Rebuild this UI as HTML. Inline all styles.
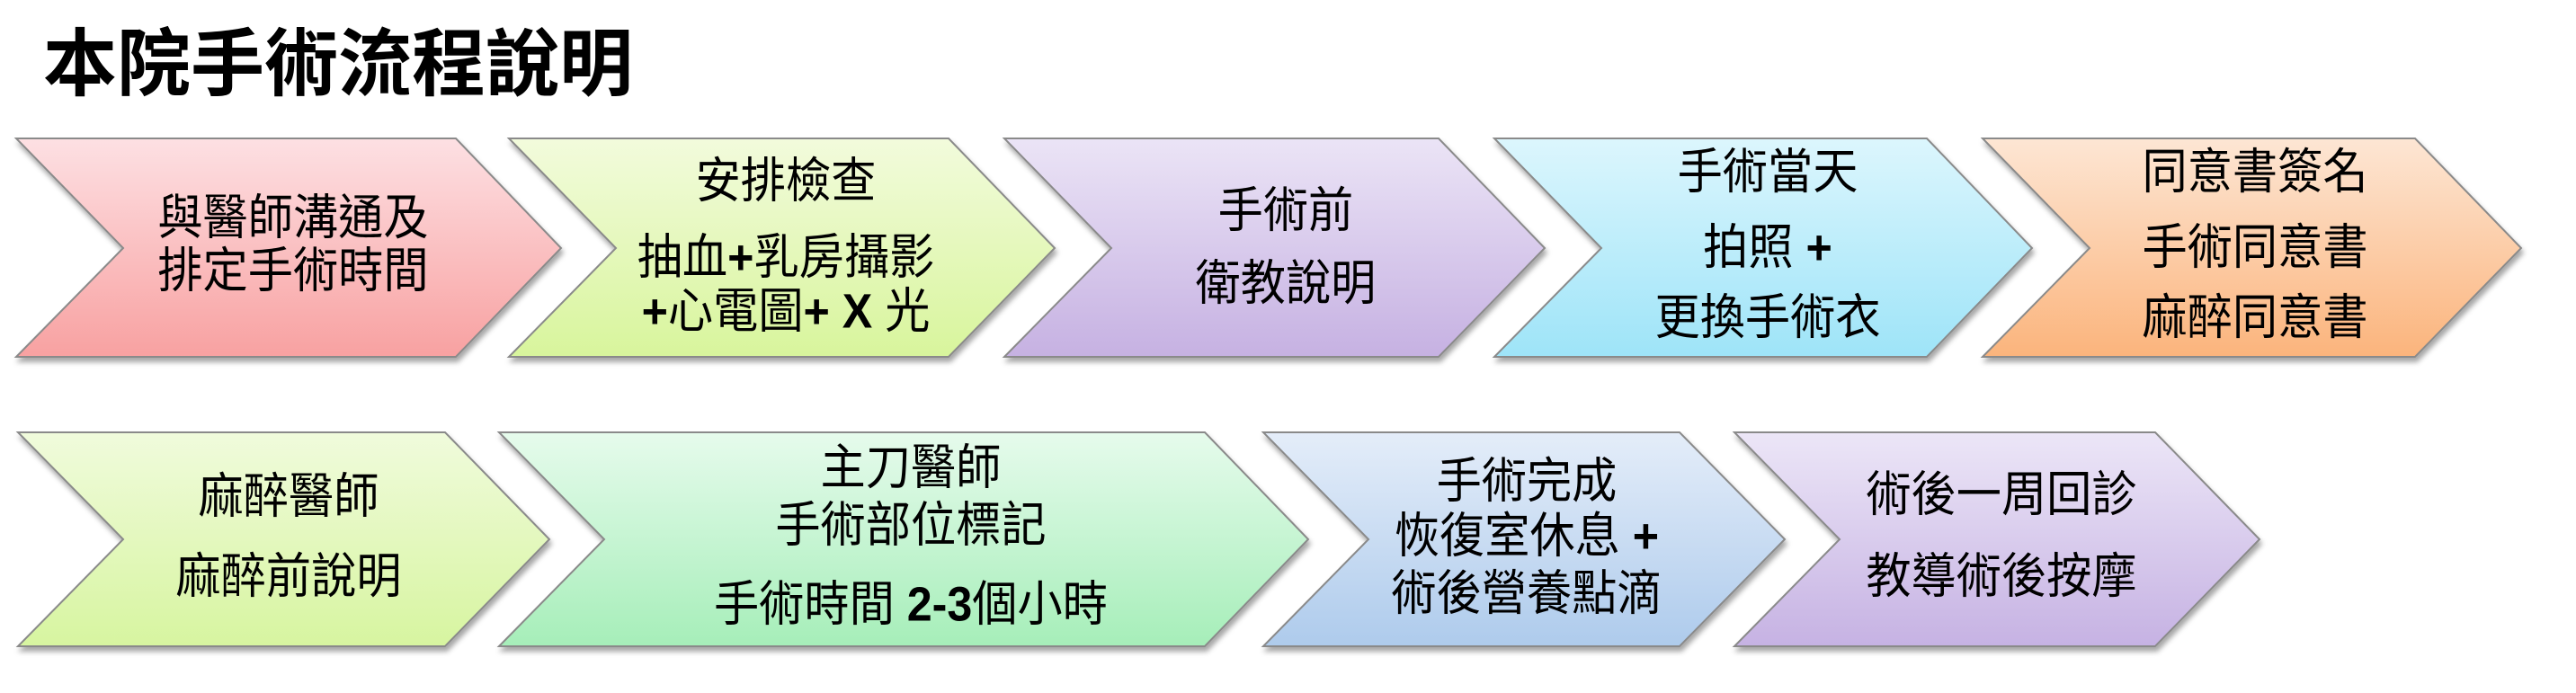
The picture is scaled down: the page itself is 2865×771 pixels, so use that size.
<!DOCTYPE html>
<html><head><meta charset="utf-8"><style>
html,body{margin:0;padding:0;background:#fff;}
svg{display:block;}
text{font-family:"Liberation Sans","Noto Sans CJK TC",sans-serif;fill:#000;}
</style></head><body>
<svg width="2865" height="771" viewBox="0 0 2865 771" xmlns="http://www.w3.org/2000/svg">
<defs>
<linearGradient id="g1" x1="0" y1="0" x2="0" y2="1"><stop offset="0" stop-color="#fde0e3"/><stop offset="1" stop-color="#f8a1a1"/></linearGradient>
<linearGradient id="g2" x1="0" y1="0" x2="0" y2="1"><stop offset="0" stop-color="#f2fbdc"/><stop offset="1" stop-color="#d8f59c"/></linearGradient>
<linearGradient id="g3" x1="0" y1="0" x2="0" y2="1"><stop offset="0" stop-color="#ebe4f6"/><stop offset="1" stop-color="#c6b1e2"/></linearGradient>
<linearGradient id="g4" x1="0" y1="0" x2="0" y2="1"><stop offset="0" stop-color="#dcf6fd"/><stop offset="1" stop-color="#9ee4f8"/></linearGradient>
<linearGradient id="g5" x1="0" y1="0" x2="0" y2="1"><stop offset="0" stop-color="#fde6d4"/><stop offset="1" stop-color="#fbb47c"/></linearGradient>
<linearGradient id="g6" x1="0" y1="0" x2="0" y2="1"><stop offset="0" stop-color="#f0fbdc"/><stop offset="1" stop-color="#d7f5a0"/></linearGradient>
<linearGradient id="g7" x1="0" y1="0" x2="0" y2="1"><stop offset="0" stop-color="#e6fbec"/><stop offset="1" stop-color="#a6eeb9"/></linearGradient>
<linearGradient id="g8" x1="0" y1="0" x2="0" y2="1"><stop offset="0" stop-color="#e4edf9"/><stop offset="1" stop-color="#aecbec"/></linearGradient>
<linearGradient id="g9" x1="0" y1="0" x2="0" y2="1"><stop offset="0" stop-color="#ece6f7"/><stop offset="1" stop-color="#c6b2e3"/></linearGradient>
<filter id="sh" x="-5%" y="-5%" width="110%" height="115%"><feDropShadow dx="2" dy="5" stdDeviation="3" flood-color="#000" flood-opacity="0.35"/></filter>
</defs>
<text x="48" y="72" font-size="82" font-weight="bold" dominant-baseline="central">本院手術流程說明</text>
<g stroke="#8a8a8a" stroke-width="2" filter="url(#sh)">
<polygon fill="url(#g1)" points="18,154 507,154 624,276 507,397 18,397 137,276"/>
<polygon fill="url(#g2)" points="566,154 1055,154 1173,276 1055,397 566,397 685,276"/>
<polygon fill="url(#g3)" points="1117,154 1600,154 1718,276 1600,397 1117,397 1236,276"/>
<polygon fill="url(#g4)" points="1662,154 2143,154 2260,276 2143,397 1662,397 1781,276"/>
<polygon fill="url(#g5)" points="2205,154 2686,154 2804,276 2686,397 2205,397 2324,276"/>
<polygon fill="url(#g6)" points="20,481 495,481 611,600 495,719 20,719 137,600"/>
<polygon fill="url(#g7)" points="555,481 1340,481 1455,600 1340,719 555,719 672,600"/>
<polygon fill="url(#g8)" points="1405,481 1868,481 1985,600 1868,719 1405,719 1522,600"/>
<polygon fill="url(#g9)" points="1929,481 2397,481 2513,600 2397,719 1929,719 2046,600"/>
</g>
<g font-size="54" text-anchor="middle" dominant-baseline="central" transform="scale(0.93,1)">
<text x="350.5" y="243">與醫師溝通及</text>
<text x="350.5" y="302">排定手術時間</text>
<text x="939.8" y="202">安排檢查</text>
<text x="939.8" y="287">抽血<tspan font-weight="bold">+</tspan>乳房攝影</text>
<text x="939.8" y="347"><tspan font-weight="bold">+</tspan>心電圖<tspan font-weight="bold">+ X </tspan>光</text>
<text x="1537.6" y="235">手術前</text>
<text x="1537.6" y="316">衛教說明</text>
<text x="2114" y="192">手術當天</text>
<text x="2114" y="276">拍照 <tspan font-weight="bold">+</tspan></text>
<text x="2114" y="354">更換手術衣</text>
<text x="2696.8" y="192">同意書簽名</text>
<text x="2696.8" y="276">手術同意書</text>
<text x="2696.8" y="354">麻醉同意書</text>
<text x="345.2" y="553">麻醉醫師</text>
<text x="345.2" y="642">麻醉前說明</text>
<text x="1089.2" y="521">主刀醫師</text>
<text x="1089.2" y="585">手術部位標記</text>
<text x="1089.2" y="673">手術時間 <tspan font-weight="bold">2-3</tspan>個小時</text>
<text x="1825.8" y="536">手術完成</text>
<text x="1825.8" y="597">恢復室休息 <tspan font-weight="bold">+</tspan></text>
<text x="1825.8" y="661">術後營養點滴</text>
<text x="2393.5" y="551">術後一周回診</text>
<text x="2393.5" y="642">教導術後按摩</text>
</g>
</svg>
</body></html>
